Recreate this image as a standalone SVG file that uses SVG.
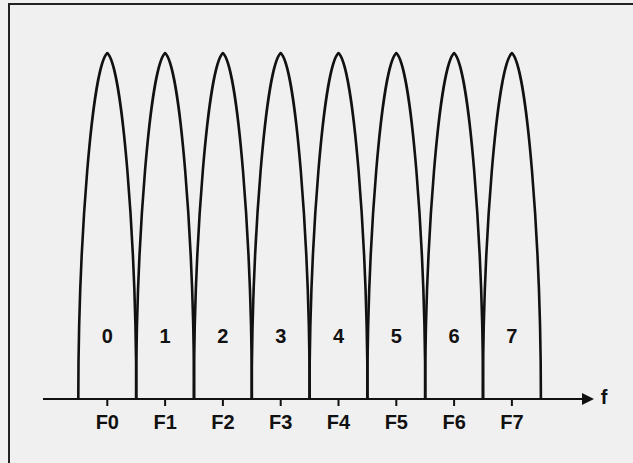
<svg xmlns="http://www.w3.org/2000/svg" width="633" height="463" viewBox="0 0 633 463">
<defs>
<style>
.lobe{fill:none;stroke:#111;stroke-width:2.6;stroke-linejoin:round}
.ax{fill:none;stroke:#111;stroke-width:2}
.lbl{font-family:"Liberation Sans",Arial,sans-serif;font-weight:bold;font-size:20px;fill:#111;text-anchor:middle}
</style>
<path id="lobeShape" d="M-29,399 C-29,240 -15,66 0,53 C15,66 29,240 29,399"/>
<marker id="arr" markerWidth="12" markerHeight="12" refX="0" refY="6" orient="auto" markerUnits="userSpaceOnUse">
<path d="M0,0 L12,6 L0,12 Z" fill="#111"/>
</marker>
</defs>
<rect x="0" y="0" width="633" height="463" fill="#f0f0f0"/>
<rect x="9" y="4" width="640" height="480" fill="#f0f0f0" stroke="#222" stroke-width="2"/>
<g id="connectors">
<line class="ax" x1="43" y1="399" x2="582" y2="399" marker-end="url(#arr)"/>
</g>
<g id="lobes">
<use href="#lobeShape" class="lobe" transform="translate(107.3,0)"/>
<use href="#lobeShape" class="lobe" transform="translate(165.1,0)"/>
<use href="#lobeShape" class="lobe" transform="translate(222.9,0)"/>
<use href="#lobeShape" class="lobe" transform="translate(280.7,0)"/>
<use href="#lobeShape" class="lobe" transform="translate(338.5,0)"/>
<use href="#lobeShape" class="lobe" transform="translate(396.3,0)"/>
<use href="#lobeShape" class="lobe" transform="translate(454.1,0)"/>
<use href="#lobeShape" class="lobe" transform="translate(511.9,0)"/>
</g>
<g id="ticks" class="ax">
<line x1="107.3" y1="399" x2="107.3" y2="406"/>
<line x1="165.1" y1="399" x2="165.1" y2="406"/>
<line x1="222.9" y1="399" x2="222.9" y2="406"/>
<line x1="280.7" y1="399" x2="280.7" y2="406"/>
<line x1="338.5" y1="399" x2="338.5" y2="406"/>
<line x1="396.3" y1="399" x2="396.3" y2="406"/>
<line x1="454.1" y1="399" x2="454.1" y2="406"/>
<line x1="511.9" y1="399" x2="511.9" y2="406"/>
</g>
<g id="bins">
<text class="lbl" x="107.3" y="343">0</text>
<text class="lbl" x="165.1" y="343">1</text>
<text class="lbl" x="222.9" y="343">2</text>
<text class="lbl" x="280.7" y="343">3</text>
<text class="lbl" x="338.5" y="343">4</text>
<text class="lbl" x="396.3" y="343">5</text>
<text class="lbl" x="454.1" y="343">6</text>
<text class="lbl" x="511.9" y="343">7</text>
</g>
<g id="freqs">
<text class="lbl" x="107.3" y="429">F0</text>
<text class="lbl" x="165.1" y="429">F1</text>
<text class="lbl" x="222.9" y="429">F2</text>
<text class="lbl" x="280.7" y="429">F3</text>
<text class="lbl" x="338.5" y="429">F4</text>
<text class="lbl" x="396.3" y="429">F5</text>
<text class="lbl" x="454.1" y="429">F6</text>
<text class="lbl" x="511.9" y="429">F7</text>
</g>
<g id="axis-label">
<text class="lbl" x="604" y="404">f</text>
</g>
</svg>
